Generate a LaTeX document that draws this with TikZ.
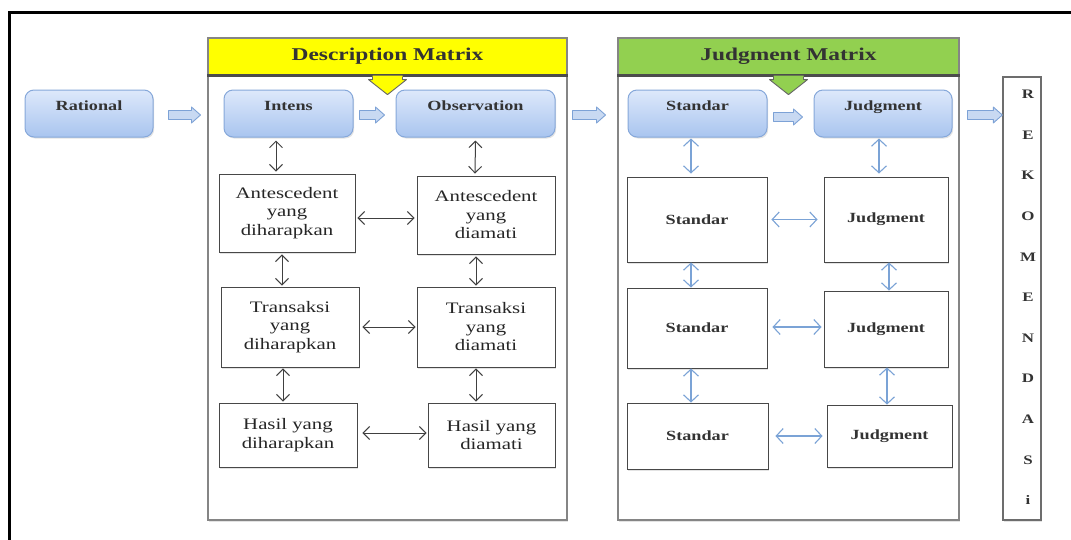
\documentclass[tikz,border=0pt]{standalone}
\usepackage{fontspec}
\setmainfont{Liberation Serif}[FakeStretch=1.3]
\usetikzlibrary{arrows.meta,shadows,calc}

\definecolor{yel}{HTML}{FFFF00}
\definecolor{grn}{HTML}{92D050}
\definecolor{bluetop}{HTML}{DDE8FB}
\definecolor{bluebot}{HTML}{A9C5EF}
\definecolor{blueedge}{HTML}{86A8DA}
\definecolor{arrowfill}{HTML}{C8D9F2}
\definecolor{arrowedge}{HTML}{7DA2D6}
\definecolor{barrow}{HTML}{7BA3D6}
\definecolor{panelgray}{HTML}{858585}
\definecolor{boxedge}{HTML}{484848}

\newcommand\blockarr[2]{%
  \path[draw=arrowedge, fill=arrowfill, line width=0.9pt, line join=round]
    let \p1=(#1), \p2=(#2) in
    (\x1,\y1+4.5pt) -- (\x2-9pt,\y1+4.5pt) -- (\x2-9pt,\y1+8pt) -- (\x2,\y1)
    -- (\x2-9pt,\y1-8pt) -- (\x2-9pt,\y1-4.5pt) -- (\x1,\y1-4.5pt) -- cycle;}

\tikzset{
  softshadow/.style={drop shadow={shadow xshift=1.2pt, shadow yshift=-1.5pt, opacity=0.22}},
  rbox/.style={draw=blueedge, line width=1pt, rounded corners=9pt,
    top color=bluetop, bottom color=bluebot, softshadow,
    text height=10pt, text depth=17pt, minimum height=47pt, inner sep=0pt,
    font=\fontsize{14}{16}\selectfont\bfseries, text=black!80},
  panel/.style={draw=panelgray, line width=1.6pt, fill=white, softshadow, inner sep=0pt},
  head/.style={draw=panelgray, line width=1.2pt, inner sep=0pt, minimum height=37pt,
    font=\fontsize{18}{20}\selectfont\bfseries, text=black!80},
  dbox/.style={draw=boxedge, line width=0.9pt, fill=white, softshadow, align=center,
    inner sep=0pt, font=\fontsize{16}{18.5}\selectfont, text=black!85},
  jbox/.style={draw=boxedge, line width=0.9pt, fill=white, softshadow, align=center,
    inner sep=0pt, font=\fontsize{14}{16}\selectfont\bfseries, text=black!80},
  blk/.style={{Straight Barb[length=6.5pt,width=13pt]}-{Straight Barb[length=6.5pt,width=13pt]},
    line width=1pt, draw=black!75},
  blu/.style={{Straight Barb[length=7pt,width=15pt]}-{Straight Barb[length=7pt,width=15pt]},
    line width=1.1pt, draw=barrow},
}

\begin{document}
\begin{tikzpicture}[x=1pt, y=-1pt]
\useasboundingbox (0,0) rectangle (1071,539);
\fill[white] (0,0) rectangle (1071,539);

% outer frame
\draw[line width=3.5pt] (9.5,560) -- (9.5,12.5) -- (1090,12.5);

% panels
\node[panel, minimum width=359pt, minimum height=482pt] (dpanel) at (387.5,279) {};
\node[head, fill=yel, minimum width=359pt] (dhead) at (387.5,56.5) {Description Matrix};
\draw[line width=2.6pt, black!70] (dhead.south west) -- (dhead.south east);

\node[panel, minimum width=341pt, minimum height=482pt] (jpanel) at (788.5,279) {};
\node[head, fill=grn, minimum width=341pt] (jhead) at (788.5,56.5) {Judgment Matrix};
\draw[line width=2.6pt, black!70] (jhead.south west) -- (jhead.south east);

% header arrows
\fill[yel] ([xshift=-15pt]dhead.south) -- ++(0,4) -- ++(-4,0) -- ++(19,15) -- ++(19,-15) -- ++(-4,0) -- ++(0,-4) -- cycle;
\draw[black!60, line width=0.9pt, line join=round] ([xshift=-15pt,yshift=-1.3pt]dhead.south) -- ++(0,2.7) -- ++(-4,0) -- ++(19,15) -- ++(19,-15) -- ++(-4,0) -- ++(0,-2.7);
\fill[grn] ([xshift=-15pt]jhead.south) -- ++(0,4) -- ++(-4,0) -- ++(19,15) -- ++(19,-15) -- ++(-4,0) -- ++(0,-4) -- cycle;
\draw[black!60, line width=0.9pt, line join=round] ([xshift=-15pt,yshift=-1.3pt]jhead.south) -- ++(0,2.7) -- ++(-4,0) -- ++(19,15) -- ++(19,-15) -- ++(-4,0) -- ++(0,-2.7);

% rounded boxes
\node[rbox, minimum width=128pt] (rational) at (89,113.5) {Rational};
\node[rbox, minimum width=129pt] (intens) at (288.5,113.5) {Intens};
\node[rbox, minimum width=159pt] (obs) at (475.5,113.5) {Observation};
\node[rbox, minimum width=139pt] (standarT) at (697.5,113.5) {Standar};
\node[rbox, minimum width=138pt] (judgT) at (883,113.5) {Judgment};

% rekomendasi
\node[draw=boxedge!80, line width=1.4pt, fill=white, softshadow, minimum width=38pt, minimum height=443pt, inner sep=0pt] (rek) at (1022,298.5) {};
\node[font=\fontsize{13}{40.6}\selectfont\bfseries, align=center, text=black!80, inner sep=0pt] (rekt) at ([xshift=6pt,yshift=1pt]rek.center) {R\\E\\K\\O\\M\\E\\N\\D\\A\\S\\i};

% block arrows
\blockarr{[xshift=15pt,yshift=-1.5pt]rational.east}{[xshift=-23pt,yshift=-1.5pt]intens.west}
\blockarr{[xshift=6pt,yshift=-1.5pt]intens.east}{[xshift=-11pt,yshift=-1.5pt]obs.west}
\blockarr{[xshift=17pt,yshift=-1.5pt]obs.east}{[xshift=-22pt,yshift=-1.5pt]standarT.west}
\blockarr{[xshift=6pt,yshift=-3.5pt]standarT.east}{[xshift=-11pt,yshift=-3.5pt]judgT.west}
\blockarr{[xshift=15pt,yshift=-1.5pt]judgT.east}{[yshift=-1.5pt]rek.west}

% description boxes
\node[dbox, minimum width=136pt, minimum height=78pt] (aL) at (287,213) {Antescedent\\yang\\diharapkan};
\node[dbox, minimum width=138pt, minimum height=78pt] (aR) at (486,215) {Antescedent\\yang\\diamati};
\node[dbox, minimum width=138pt, minimum height=80pt] (tL) at (290,327) {Transaksi\\yang\\diharapkan};
\node[dbox, minimum width=138pt, minimum height=80pt] (tR) at (486,327) {Transaksi\\yang\\diamati};
\node[dbox, minimum width=138pt, minimum height=64pt] (hL) at (288,435) {Hasil yang\\diharapkan};
\node[dbox, minimum width=127pt, minimum height=64pt] (hR) at (491.5,435) {Hasil yang\\diamati};

% description arrows
\draw[blk] ([xshift=-12.5pt,yshift=-3pt]intens.south) -- ([xshift=-11pt,yshift=2pt]aL.north);
\draw[blk] ([yshift=-3pt]obs.south) -- ([xshift=-11pt,yshift=2pt]aR.north);
\draw[blk] ([xshift=2pt,yshift=-5pt]aL.east) -- ([xshift=-2pt,yshift=-3pt]aR.west);
\draw[blk] ([xshift=-5pt,yshift=-2pt]aL.south) -- ([xshift=-8pt,yshift=1pt]tL.north);
\draw[blk] ([xshift=-10pt,yshift=-2pt]aR.south) -- ([xshift=-10pt,yshift=1pt]tR.north);
\draw[blk] ([xshift=3pt]tL.east) -- ([xshift=-1pt]tR.west);
\draw[blk] ([xshift=-7pt,yshift=-1pt]tL.south) -- ([xshift=-5pt,yshift=1pt]hL.north);
\draw[blk] ([xshift=-10pt,yshift=-1pt]tR.south) -- ([xshift=-15.5pt,yshift=1pt]hR.north);
\draw[blk] ([xshift=5pt,yshift=2pt]hL.east) -- ([xshift=-1pt,yshift=2pt]hR.west);

% judgment boxes
\node[jbox, minimum width=140pt, minimum height=85pt] (sL1) at (697,219.5) {Standar};
\node[jbox, minimum width=124pt, minimum height=85pt] (jR1) at (886,219.5) {Judgment};
\node[jbox, minimum width=140pt, minimum height=80pt] (sL2) at (697,328) {Standar};
\node[jbox, minimum width=124pt, minimum height=76pt] (jR2) at (886,329) {Judgment};
\node[jbox, minimum width=141pt, minimum height=66pt] (sL3) at (697.5,436) {Standar};
\node[jbox, minimum width=125pt, minimum height=62pt] (jR3) at (889.5,436) {Judgment};

% judgment arrows
\draw[blu] ([xshift=-6.5pt,yshift=-1pt]standarT.south) -- ([xshift=-6pt,yshift=3pt]sL1.north);
\draw[blu] ([xshift=-4pt,yshift=-1pt]judgT.south) -- ([xshift=-7pt,yshift=3pt]jR1.north);
\draw[blu] ([xshift=4pt]sL1.east) -- ([xshift=-6pt]jR1.west);
\draw[blu] ([xshift=-6pt,yshift=0pt]sL1.south) -- ([xshift=-6pt,yshift=0pt]sL2.north);
\draw[blu] ([xshift=3pt,yshift=0pt]jR1.south) -- ([xshift=3pt,yshift=0pt]jR2.north);
\draw[blu] ([xshift=5pt,yshift=1pt]sL2.east) -- ([xshift=-2pt,yshift=2pt]jR2.west);
\draw[blu] ([xshift=-6pt]sL2.south) -- ([xshift=-6.5pt]sL3.north);
\draw[blu] ([xshift=1pt]jR2.south) -- ([xshift=-2.5pt]jR3.north);
\draw[blu] ([xshift=7pt]sL3.east) -- ([xshift=-4pt]jR3.west);
\end{tikzpicture}
\end{document}
